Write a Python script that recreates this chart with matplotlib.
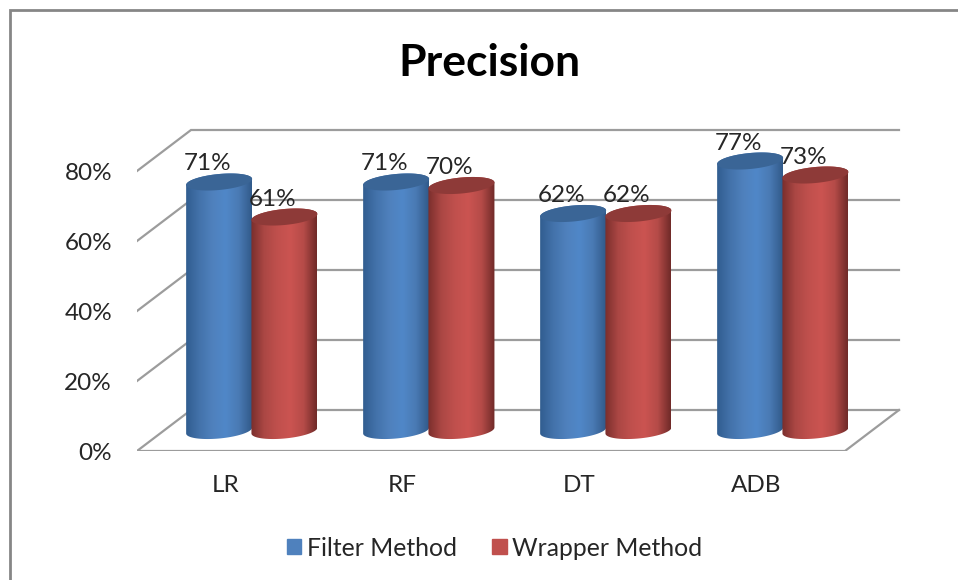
import matplotlib
matplotlib.use("Agg")
import matplotlib.pyplot as plt
from matplotlib.colors import LinearSegmentedColormap
from matplotlib.lines import Line2D
from matplotlib.patches import Patch, Polygon
import numpy as np

categories = ["LR", "RF", "DT", "ADB"]
filter_method = [71, 71, 62, 77]
wrapper_method = [61, 70, 62, 73]
y_ticks = [0, 20, 40, 60, 80]

W, H = 958, 580
plt.rcParams["font.family"] = ["Lato", "DejaVu Sans"]
TEXT = "#262626"
LINE = "#9c9c9c"

# 3d look: depth of the floor, in data units
DEPTH_X = 54 / 177
DEPTH_Y = 41 / 3.5
RADIUS = 33 / 177
RY = 8 / 3.5
SLOPE = 0.09 * 177 / 3.5


def ellipse(cx, cy, t):
    x = cx + RADIUS * np.cos(t)
    y = cy + RY * np.sin(t) + SLOPE * (x - cx)
    return np.column_stack([x, y])


def cylinder(ax, cx, value, side_colors, top_color, z):
    base = DEPTH_Y / 2
    top = base + value
    # body: top half circle at the top, bottom half circle at the base
    upper = ellipse(cx, top, np.linspace(0, np.pi, 60))
    lower = ellipse(cx, base, np.linspace(np.pi, 2 * np.pi, 60))
    body = Polygon(np.vstack([upper, lower]), closed=True, transform=ax.transData, fc="none", ec="none")
    ax.add_patch(body)
    cmap = LinearSegmentedColormap.from_list("side", side_colors)
    im = ax.imshow(np.linspace(0, 1, 256).reshape(1, -1), cmap=cmap, aspect="auto", interpolation="bilinear",
                   extent=(cx - RADIUS, cx + RADIUS, 0, top + 5), zorder=z)
    im.set_clip_path(body)
    ax.add_patch(Polygon(ellipse(cx, top, np.linspace(0, 2 * np.pi, 120)), closed=True,
                         fc=top_color, ec="none", zorder=z + 0.1))


fig = plt.figure(figsize=(W / 100, H / 100), dpi=100)
ax = fig.add_axes([137 / W, 1 - 451 / H, 778.8 / W, 350 / H])

for v in y_ticks:
    ax.plot([0, DEPTH_X, 4 + DEPTH_X], [v, v + DEPTH_Y, v + DEPTH_Y], color=LINE, lw=1.6, zorder=1, solid_joinstyle="miter")
ax.plot([0, 4, 4 + DEPTH_X], [0, 0, DEPTH_Y], color=LINE, lw=1.6, zorder=1, solid_joinstyle="miter")

blue_side = ["#315d90", "#4372aa", "#4f81bd", "#5087c8", "#4a7ab4", "#315a8a"]
red_side = ["#7a2e2c", "#ab4744", "#c0504d", "#cb5451", "#b54b48", "#6f2a28"]

for i in range(len(categories)):
    center = i + 0.5 + DEPTH_X / 2
    c1 = center - RADIUS - 0.002
    c2 = center + RADIUS - 0.006
    cylinder(ax, c1, filter_method[i], blue_side, "#3a6596", 3 + i)
    cylinder(ax, c2, wrapper_method[i], red_side, "#8e3a38", 3.5 + i)
    for c, v in [(c1, filter_method[i]), (c2, wrapper_method[i])]:
        ax.annotate(f"{v}%", (c, v + DEPTH_Y / 2), xytext=(-12 * 0.72, 18 * 0.72), textcoords="offset points",
                    ha="center", va="center", fontsize=17.5, color=TEXT, zorder=20)

ax.set_xlim(0, 4.4)
ax.set_ylim(0, 100)
ax.set_xticks(np.arange(len(categories)) + 0.5, categories)
ax.set_yticks(y_ticks, [f"{v}%" for v in y_ticks])
ax.tick_params(axis="both", length=0, labelsize=17.5, labelcolor=TEXT)
ax.tick_params(axis="x", pad=17)
ax.tick_params(axis="y", pad=18)
for s in ax.spines.values():
    s.set_visible(False)
ax.patch.set_visible(False)

fig.text(489 / W, 1 - 63 / H, "Precision", ha="center", va="center", fontsize=32, fontweight="bold", color="black")

handles = [Patch(color="#4f81bd", label="Filter Method"), Patch(color="#c0504d", label="Wrapper Method")]
fig.legend(handles=handles, loc="center", bbox_to_anchor=(494.5 / W, 1 - 548 / H), ncol=2, frameon=False,
           fontsize=17.8, labelcolor=TEXT, handlelength=0.58, handleheight=0.58, handletextpad=0.21, columnspacing=1.45)

# chart frame, only left and top edges are inside the picture
fig.add_artist(Line2D([10 / W, 10 / W, 1], [0, 1 - 10 / H, 1 - 10 / H], color="#868686", lw=2, solid_joinstyle="miter"))

fig.savefig("out.png", dpi=100)
